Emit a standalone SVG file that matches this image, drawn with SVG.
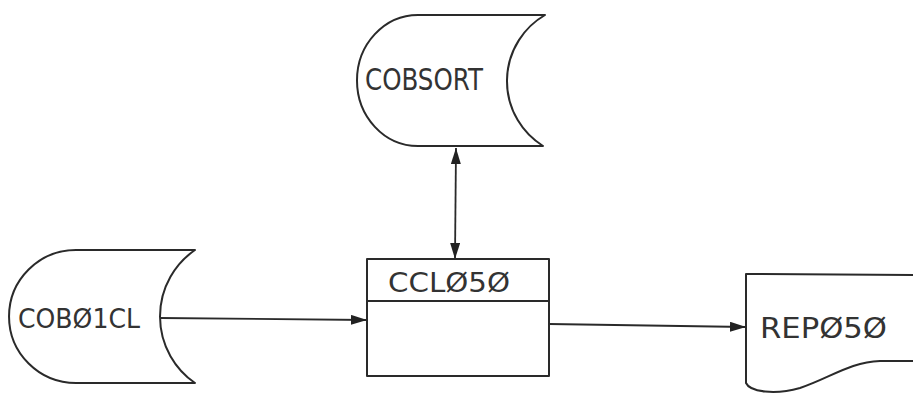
<svg xmlns="http://www.w3.org/2000/svg" width="913" height="393" viewBox="0 0 913 393">
<style>
.shape{fill:#fff;stroke:#2a2a2a;stroke-width:2;stroke-linejoin:round}
.line{fill:none;stroke:#2a2a2a;stroke-width:1.8}
.lbl{font-family:"DejaVu Sans","Liberation Sans",sans-serif;fill:#333;font-weight:normal}
</style>
<defs>
<marker id="ah" viewBox="0 0 16 10" refX="16" refY="5" markerWidth="16" markerHeight="10" markerUnits="userSpaceOnUse" orient="auto-start-reverse">
<path d="M0,0 L16,5 L0,10 Z" fill="#222"/>
</marker>
</defs>
<rect width="913" height="393" fill="#fff"/>
<g id="connectors">
<path class="line" d="M160,318 L367,320" marker-end="url(#ah)"/>
<path class="line" d="M456,148 L455,259" marker-start="url(#ah)" marker-end="url(#ah)"/>
<path class="line" d="M549,324 L746,327" marker-end="url(#ah)"/>
</g>
<g id="cobsort">
<path class="shape" d="M418,15 L545,15 A76.5,76.5 0 0 0 543,146 L418,146 A61,65.5 0 0 1 418,15 Z"/>
<text class="lbl" x="365" y="90" font-size="30" textLength="118" lengthAdjust="spacingAndGlyphs">COBSORT</text>
</g>
<g id="cob01cl">
<path class="shape" d="M76,250 L195,250 A80.7,80.7 0 0 0 195,383 L76,383 A67,66.5 0 0 1 76,250 Z"/>
<text class="lbl" x="18" y="328" font-size="27" textLength="122" lengthAdjust="spacingAndGlyphs">COBØ1CL</text>
</g>
<g id="ccl050">
<rect class="shape" x="367" y="259" width="182" height="117"/>
<line class="line" x1="367" y1="301" x2="549" y2="301"/>
<text class="lbl" x="388" y="292" font-size="26" textLength="122" lengthAdjust="spacingAndGlyphs">CCLØ5Ø</text>
</g>
<g id="rep050">
<path class="shape" d="M913,275 L746,274 L746,383 C750,392 775,395 800,388 C830,378 850,362 880,361 L913,361"/>
<text class="lbl" x="760" y="338" font-size="28" textLength="127" lengthAdjust="spacingAndGlyphs">REPØ5Ø</text>
</g>
</svg>
